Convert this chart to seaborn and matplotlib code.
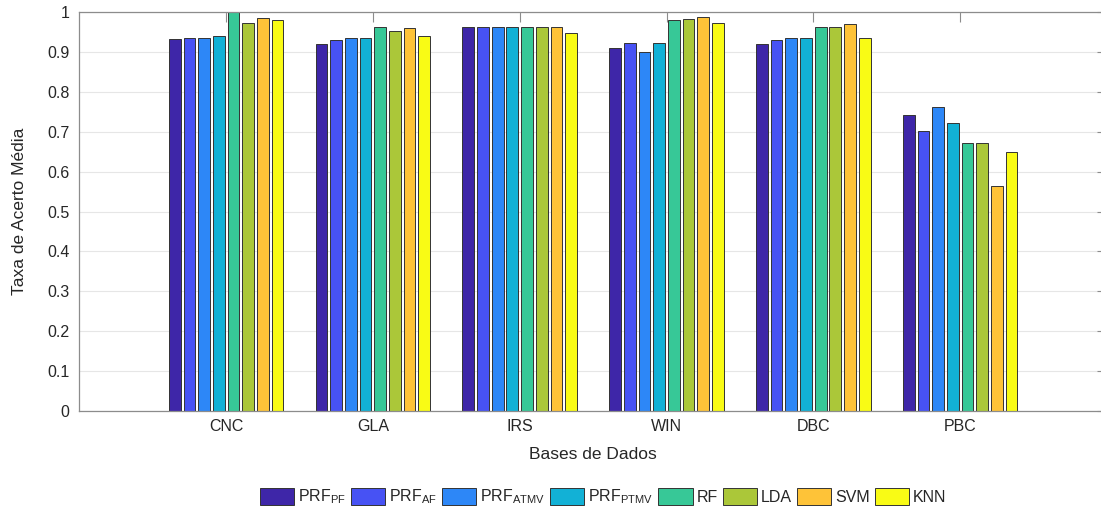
import numpy as np
import pandas as pd
import matplotlib
matplotlib.use("Agg")
import matplotlib.pyplot as plt
import seaborn as sns

# Datasets and classifiers
bases = ["CNC", "GLA", "IRS", "WIN", "DBC", "PBC"]
metodos = [r"PRF$_{\mathrm{PF}}$", r"PRF$_{\mathrm{AF}}$", r"PRF$_{\mathrm{ATMV}}$",
           r"PRF$_{\mathrm{PTMV}}$", "RF", "LDA", "SVM", "KNN"]

# Mean accuracy per dataset (one list per classifier)
prf_pf   = [0.933, 0.921, 0.962, 0.911, 0.921, 0.742]
prf_af   = [0.936, 0.930, 0.962, 0.923, 0.930, 0.701]
prf_atmv = [0.936, 0.934, 0.962, 0.901, 0.934, 0.762]
prf_ptmv = [0.939, 0.934, 0.962, 0.923, 0.934, 0.721]
rf       = [0.999, 0.963, 0.962, 0.980, 0.963, 0.672]
lda      = [0.973, 0.953, 0.962, 0.982, 0.963, 0.672]
svm      = [0.984, 0.960, 0.962, 0.987, 0.969, 0.563]
knn      = [0.979, 0.940, 0.947, 0.973, 0.936, 0.650]

yticks = [0, 0.1, 0.2, 0.3, 0.4, 0.5, 0.6, 0.7, 0.8, 0.9, 1.0]
ytick_labels = ["0", "0.1", "0.2", "0.3", "0.4", "0.5", "0.6", "0.7", "0.8", "0.9", "1"]

cores = ["#3E26A8", "#4752F4", "#2D87F7", "#12B1D6", "#37C897", "#ABC739", "#FEC338", "#F9FB15"]

series = [prf_pf, prf_af, prf_atmv, prf_ptmv, rf, lda, svm, knn]
rows = []
for m, vals in zip(metodos, series):
    for b, v in zip(bases, vals):
        rows.append({"Base": b, "Metodo": m, "Taxa": v})
df = pd.DataFrame(rows)

sns.set_style("white")
plt.rcParams["font.family"] = ["Liberation Sans", "DejaVu Sans"]
plt.rcParams["mathtext.fontset"] = "custom"
plt.rcParams["mathtext.rm"] = "Liberation Sans"
plt.rcParams["mathtext.it"] = "Liberation Sans:italic"
plt.rcParams["mathtext.bf"] = "Liberation Sans:bold"

fig = plt.figure(figsize=(11.01, 5.09), dpi=100)
ax = fig.add_axes([0.0720, 0.1925, 0.9334, 0.7839])

sns.barplot(data=df, x="Base", y="Taxa", hue="Metodo", order=bases, hue_order=metodos,
            palette=cores, width=0.8, gap=0.2, edgecolor="#333333", linewidth=0.7,
            saturation=1, ax=ax, legend=True)

ax.set_xlim(-1, 6)
ax.set_ylim(0, 1)
ax.set_yticks(yticks)
ax.set_yticklabels(ytick_labels)
ax.set_axisbelow(True)
ax.yaxis.grid(True, color="#E6E6E6", linewidth=0.8)
ax.xaxis.grid(False)

for s in ax.spines.values():
    s.set_color("#8C8C8C")
    s.set_linewidth(0.9)
ax.spines["right"].set_visible(False)

ax.tick_params(axis="both", direction="in", length=7, width=0.8, color="#8C8C8C",
               labelsize=11.5, labelcolor="#262626", top=True, right=True)
ax.tick_params(axis="x", pad=6)
ax.tick_params(axis="y", pad=7)

ax.set_xlabel("Bases de Dados", fontsize=12.5, color="#262626", labelpad=9)
ax.set_ylabel("Taxa de Acerto Média", fontsize=12.5, color="#262626")
ax.yaxis.set_label_coords(-0.051, 0.5)

handles, labels = ax.get_legend_handles_labels()
ax.legend(handles, labels, loc="center", bbox_to_anchor=(603 / 1101, 1 - 497 / 509),
          bbox_transform=fig.transFigure, ncol=8, frameon=False, fontsize=11.5,
          handlelength=2.15, handleheight=1.3, handletextpad=0.25, columnspacing=0.3,
          labelcolor="#262626")

fig.savefig("out.png", dpi=100)
